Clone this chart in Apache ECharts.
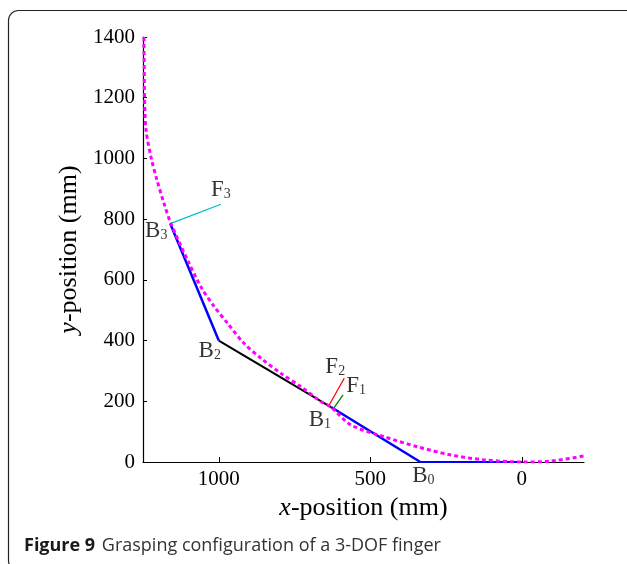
<!DOCTYPE html>
<html>
<head>
<meta charset="utf-8">
<script src="https://cdn.jsdelivr.net/npm/echarts@6/dist/echarts.min.js"></script>
<style>
html,body{margin:0;padding:0;background:#fff;}
#c{width:627px;height:564px;}
</style>
</head>
<body>
<div id="c"></div>
<script>
// ---- data ----
const xTicks = [1000, 500, 0];
const yTicks = [0, 200, 400, 600, 800, 1000, 1200, 1400];
const baseLink = [[0, 0], [335, 0]];
const link1 = [[335, 0], [630, 181]];
const link2 = [[630, 181], [1000, 400]];
const link3 = [[1000, 400], [1160, 785]];
const forceF1 = [[621, 177], [590, 221]];
const forceF2 = [[639, 182], [586, 276]];
const forceF3 = [[1160, 785], [993, 849]];
const contour = [
  [1247, 1400], [1246, 1300], [1245, 1200], [1240, 1094], [1223, 1002], [1204, 929],
  [1181, 853], [1158, 786], [1103, 665], [1059, 577], [1015, 512], [971, 457],
  [917, 391], [861, 342], [795, 292], [729, 248], [663, 199], [630, 181], [564, 122],
  [454, 83], [344, 50], [234, 23], [124, 7], [0, 0], [-96, 3], [-206, 20]
];
const jointNames = ['0', '1', '2', '3'];
const joints = [[335, 0], [630, 181], [1000, 400], [1160, 785]];
const forceNames = ['1', '2', '3'];
const forceEnds = [[590, 221], [586, 276], [993, 849]];

const serif = '"Liberation Serif", "DejaVu Serif", serif';
const chart = echarts.init(document.getElementById('c'), null, {renderer: 'canvas'});

function lineSeries(data, color, width, z) {
  return {
    type: 'line', data: data, symbol: 'none', z: z || 2,
    lineStyle: {color: color, width: width}, animation: false, silent: true
  };
}

const labelRich = {
  b: {fontFamily: serif, fontSize: 23, color: '#000'},
  s: {fontFamily: serif, fontSize: 14, color: '#000', padding: [9, 0, 0, 0]}
};
const jointOffsets = [[3, 14], [-11, 13], [-9, 10], [-14, 7]];
const forceOffsets = [[13, -9], [-9, -11], [0, -14]];

const jointLabelData = joints.map((p, i) => ({
  value: p,
  label: {show: true, formatter: '{b|B}{s|' + jointNames[i] + '}', offset: jointOffsets[i], rich: labelRich}
}));
const forceLabelData = forceEnds.map((p, i) => ({
  value: p,
  label: {show: true, formatter: '{b|F}{s|' + forceNames[i] + '}', offset: forceOffsets[i], rich: labelRich}
}));

chart.setOption({
  animation: false,
  grid: {left: 143, right: 43, top: 37, bottom: 102, containLabel: false},
  xAxis: {
    type: 'value', inverse: true, min: -205, max: 1250,
    splitLine: {show: false},
    axisLine: {show: true, onZero: false, lineStyle: {color: '#000', width: 1.2}},
    axisTick: {show: true, inside: true, length: 5, customValues: xTicks, lineStyle: {color: '#000'}},
    axisLabel: {customValues: xTicks, formatter: v => String(v), fontFamily: serif, fontSize: 21, color: '#000', margin: 7},
    name: '{i|x}-position (mm)', nameLocation: 'middle', nameGap: 32,
    nameTextStyle: {fontFamily: serif, fontSize: 26, color: '#000',
      rich: {i: {fontFamily: serif, fontSize: 26, fontStyle: 'italic', color: '#000'}}}
  },
  yAxis: {
    type: 'value', min: 0, max: 1400, interval: 200,
    splitLine: {show: false},
    axisLine: {show: true, onZero: false, lineStyle: {color: '#000', width: 1.2}},
    axisTick: {show: true, inside: true, length: 4, lineStyle: {color: '#000'}},
    axisLabel: {formatter: v => String(v), fontFamily: serif, fontSize: 21, color: '#000', margin: 8},
    name: '{i|y}-position (mm)', nameLocation: 'middle', nameGap: 57,
    nameTextStyle: {fontFamily: serif, fontSize: 26, color: '#000',
      rich: {i: {fontFamily: serif, fontSize: 26, fontStyle: 'italic', color: '#000'}}}
  },
  series: [
    lineSeries(baseLink, '#0000ff', 2, 2),
    lineSeries(link1, '#0000ff', 2.5, 2),
    lineSeries(link2, '#000000', 2, 2),
    lineSeries(link3, '#0000ff', 2.5, 2),
    lineSeries(forceF1, '#008000', 1.3, 3),
    lineSeries(forceF2, '#ff0000', 1.3, 3),
    lineSeries(forceF3, '#00bfbf', 1.3, 3),
    {
      type: 'line', data: contour, symbol: 'none', smooth: 0.3, z: 4,
      lineStyle: {color: '#ff00ff', width: 3, type: [4, 3]}, silent: true
    },
    {type: 'scatter', data: jointLabelData, symbolSize: 0, z: 5, silent: true},
    {type: 'scatter', data: forceLabelData, symbolSize: 0, z: 5, silent: true}
  ],
  graphic: [
    {type: 'rect', shape: {x: 8.5, y: 10.5, width: 660, height: 560, r: 10},
      style: {fill: 'none', stroke: '#222', lineWidth: 1.2}, silent: true},
    {type: 'text', left: 24, top: 537,
      style: {
        text: '{b|Figure 9}  {r|Grasping configuration of a 3-DOF finger}',
        rich: {
          b: {fontFamily: '"Open Sans", "Noto Sans", sans-serif', fontSize: 18, fontWeight: 'bold', fill: '#1a1a1a'},
          r: {fontFamily: '"Open Sans", "Noto Sans", sans-serif', fontSize: 18, fill: '#333'}
        }
      }, silent: true}
  ]
});
</script>
</body>
</html>
